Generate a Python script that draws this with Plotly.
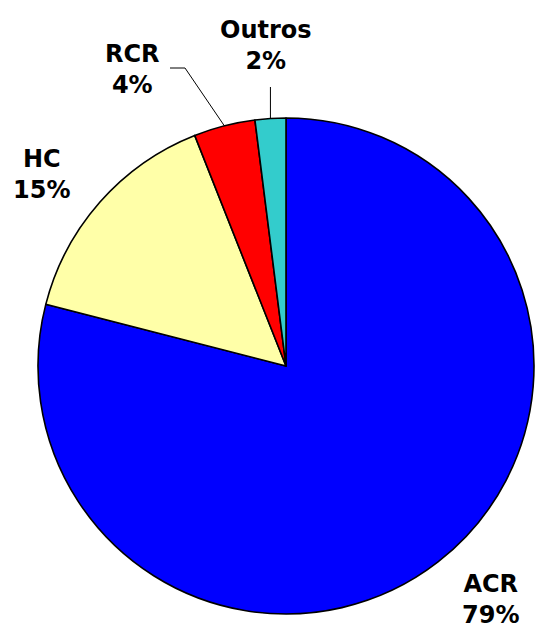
import math
import plotly.graph_objects as go

labels = ["ACR", "HC", "RCR", "Outros"]
values = [79, 15, 4, 2]
colors = ["#0000FF", "#FFFFA8", "#FF0000", "#33CCCC"]

W, H = 546, 628
CX, CY, R = 286, 366, 248  # pie centre / radius in pixels

fig = go.Figure(go.Pie(
    labels=labels,
    values=values,
    sort=False,
    direction="clockwise",
    rotation=0,
    textinfo="none",
    hoverinfo="label+percent",
    marker=dict(colors=colors, line=dict(color="#000000", width=1.6)),
    domain=dict(x=[(CX - R) / W, (CX + R) / W],
                y=[(H - CY - R) / H, (H - CY + R) / H]),
    showlegend=False,
))

# label positions (pixel centres)
label_pos = {"ACR": (490, 599), "HC": (41, 174), "RCR": (132, 70), "Outros": (266, 46)}
total = sum(values)
annotations = []
for lab, v in zip(labels, values):
    px, py = label_pos[lab]
    annotations.append(dict(
        x=px / W, y=1 - py / H, xref="paper", yref="paper",
        text=f"<b>{lab}<br>{round(100 * v / total)}%</b>",
        showarrow=False, xanchor="center", yanchor="middle",
        font=dict(family="DejaVu Sans, sans-serif", size=24, color="#000000"),
    ))

# leader lines for small slices, ending at slice mid-angle on the pie edge
cum = 0
mids = {}
for lab, v in zip(labels, values):
    mids[lab] = (cum + v / 2) / total * 2 * math.pi
    cum += v

def edge(lab):
    a = mids[lab]
    return CX + R * math.sin(a), CY - R * math.cos(a)

shapes = []
ex, ey = edge("RCR")
shapes.append(dict(type="path", xref="paper", yref="paper",
                   path=f"M {170/W},{1-68/H} L {185/W},{1-68/H} L {ex/W},{1-ey/H}",
                   line=dict(color="#000000", width=1)))
ex, ey = edge("Outros")
shapes.append(dict(type="path", xref="paper", yref="paper",
                   path=f"M {ex/W},{1-87/H} L {ex/W},{1-ey/H}",
                   line=dict(color="#000000", width=1)))

fig.update_layout(
    width=W, height=H,
    margin=dict(l=0, r=0, t=0, b=0),
    paper_bgcolor="#FFFFFF",
    plot_bgcolor="#FFFFFF",
    annotations=annotations,
    shapes=shapes,
)

fig.write_html("out.html",
               config={"displayModeBar": False},
               post_script="document.body.style.margin='0';document.body.style.overflow='hidden';")
